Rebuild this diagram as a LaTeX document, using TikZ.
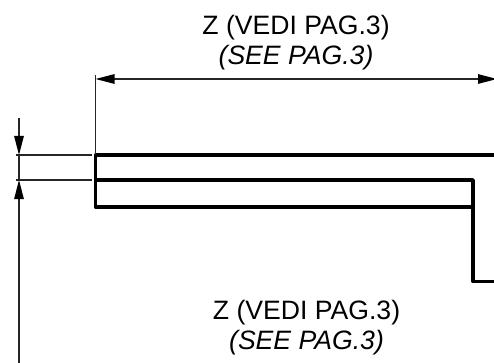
\documentclass[tikz,border=0pt]{standalone}
\usepackage{fontspec}
\setmainfont{Liberation Sans}
\usetikzlibrary{arrows.meta}
\tikzset{
  x=1pt,y=-1pt,
  dimline/.style={line width=1.2pt,black!85},
  dimarrow/.style={dimline,-{Triangle[length=19pt,width=9.5pt,color=black]}},
  dimboth/.style={dimline,{Triangle[length=19pt,width=9.5pt,color=black]}-{Triangle[length=19pt,width=9.5pt,color=black]}},
  outline/.style={line width=3.8pt,line join=round},
  dimtext/.style={align=center,font=\fontsize{26.6}{30.5}\selectfont,inner sep=0pt}
}
\begin{document}
\begin{tikzpicture}
\useasboundingbox (0,0) rectangle (494,363);
\coordinate (topleft) at (95.5,155);
\coordinate (topright) at (494,155);
\coordinate (midleft) at (95.5,180);
\coordinate (midright) at (473,180);
\coordinate (botleft) at (95.5,207);
\coordinate (botright) at (473,207);
\coordinate (stepin) at (473,281.5);
\coordinate (stepout) at (494,281.5);
\coordinate (extend) at (95.5,75);
\coordinate (dimleft) at (95.5,79);
\coordinate (dimright) at (497,79);
\coordinate (upperstart) at (19,118);
\coordinate (upperend) at (19,155);
\coordinate (lowerstart) at (19,363);
\coordinate (lowerend) at (19,180);
\coordinate (extupper) at (16,155);
\coordinate (extupperend) at (92,155);
\coordinate (extlower) at (16,180);
\coordinate (extlowerend) at (92,180);
\draw[outline] (topright) -- (topleft) -- (botleft) -- (botright) -- (midright) -- (midleft);
\draw[outline] (midright) -- (stepin) -- (stepout);
\draw[dimline] (extend) -- (topleft);
\draw[dimboth] (dimleft) -- (dimright);
\draw[dimline] (extupper) -- (extupperend);
\draw[dimline] (extlower) -- (extlowerend);
\draw[dimline] (upperend) -- (lowerend);
\draw[dimarrow] (upperstart) -- (upperend);
\draw[dimarrow] (lowerstart) -- (lowerend);
\node[dimtext] (topnote) at (296,42.4) {Z (VEDI PAG.3)\\\itshape (SEE PAG.3)};
\node[dimtext] (botnote) at (306.5,327.4) {Z (VEDI PAG.3)\\\itshape (SEE PAG.3)};
\end{tikzpicture}
\end{document}
